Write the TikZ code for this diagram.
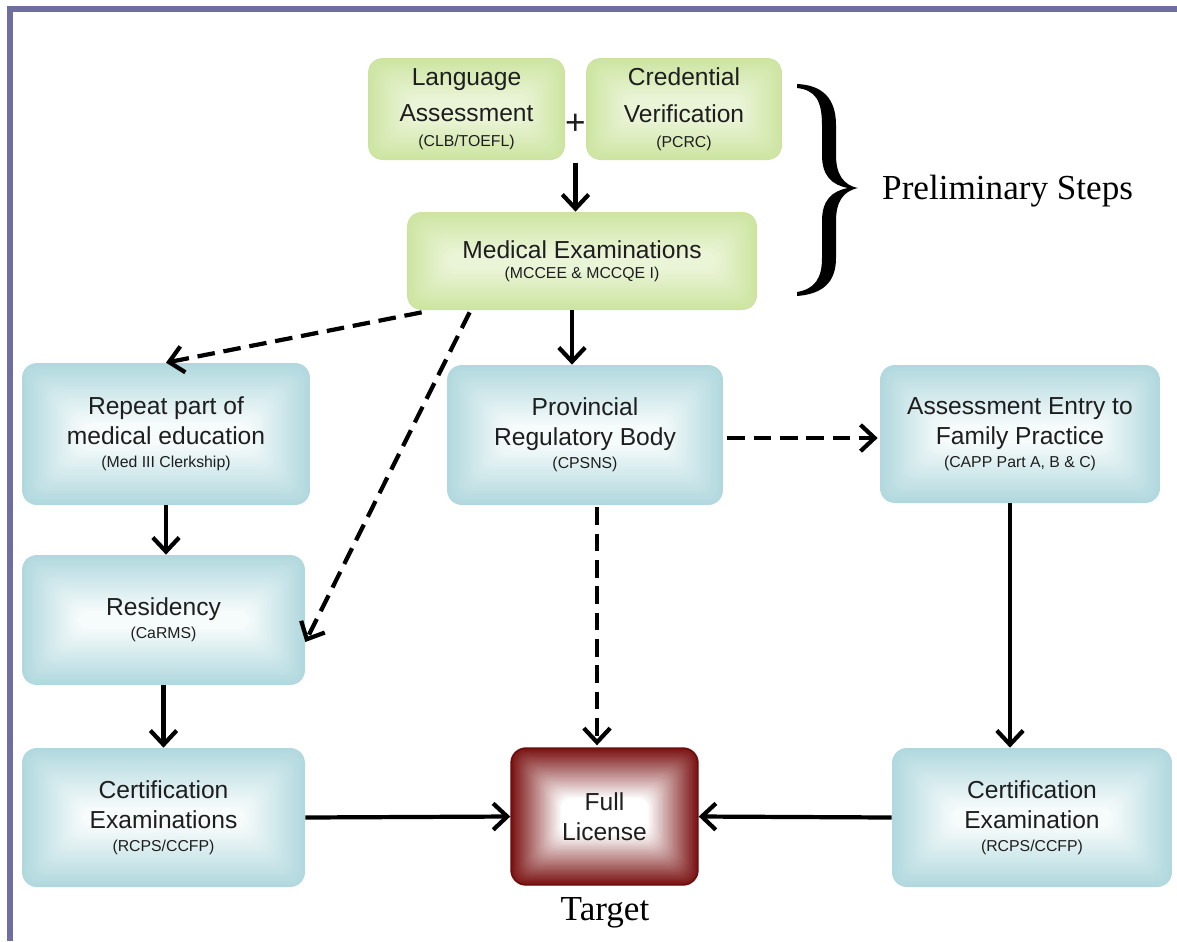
\documentclass[tikz,border=0pt]{standalone}
\usepackage{fontspec}
\setmainfont{Liberation Sans}
\newfontfamily\serifp{Liberation Serif}
\usetikzlibrary{arrows.meta,calc}
\definecolor{frameC}{RGB}{110,110,160}
\definecolor{blueE}{RGB}{176,216,222}
\definecolor{blueC}{RGB}{246,251,251}
\definecolor{greenE}{RGB}{204,228,160}
\definecolor{greenC}{RGB}{234,244,214}
\definecolor{redE}{RGB}{122,18,18}
\definecolor{redC}{RGB}{255,255,255}
\definecolor{txt}{RGB}{30,30,30}
\newcommand\sm[1]{{\fontsize{9}{11}\selectfont #1}}
\begin{document}
\begin{tikzpicture}[x=0.02cm,y=-0.02cm,
  box/.style={rounded corners=0.3cm, align=center, inner sep=2pt,
    font=\fontsize{14}{17}\selectfont, text=txt},
  sz/.style 2 args={minimum width=#1*0.02cm, minimum height=#2*0.02cm},
  glow/.style n args={3}{path picture={
    \foreach \i in {0,...,40}{
      \pgfmathsetmacro\pc{2.5*\i}
      \pgfmathsetmacro\ins{#3*\i/40}
      \fill[#2!\pc!#1, rounded corners=6pt]
        ($(path picture bounding box.south west)+(\ins,-\ins)$) rectangle
        ($(path picture bounding box.north east)+(-\ins,\ins)$);
    }}},
  arr/.style={line width=2.4pt, -{Straight Barb[length=8pt,width=15pt,line width=2.4pt]}},
  dsh/.style={arr, dash pattern=on 10pt off 5pt},
  lbl/.style={font=\serifp\fontsize{20}{23}\selectfont, text=black}
]
\useasboundingbox (0,0) rectangle (1177,941);
\fill[white] (0,0) rectangle (1177,941);
% frame
\draw[frameC, line width=0.12cm] (10,941) -- (10,9) -- (1177,9);

% preliminary boxes
\node[box,sz={197}{102},glow={greenE}{greenC}{40}] (lang) at (466.5,109)
  {Language\\[4pt]Assessment\\[-3pt]\sm{(CLB/TOEFL)}};
\node[box,sz={196}{102},glow={greenE}{greenC}{40}] (cred) at (684,109)
  {Credential\\[4pt]Verification\\[-3pt]\sm{(PCRC)}};
\node[font=\fontsize{20}{22}\selectfont, text=txt, inner sep=0pt] (plus) at (575.5,124) {+};
\node[box,sz={350}{98},glow={greenE}{greenC}{40}] (med) at (582,261)
  {Medical Examinations\\[-5.5pt]\sm{(MCCEE \& MCCQE I)}};

% middle row
\node[box,sz={288}{142},glow={blueE}{blueC}{60}] (rep) at (166,434)
  {Repeat part of\\medical education\\[-4pt]\sm{(Med III Clerkship)}};
\node[box,sz={276}{140},glow={blueE}{blueC}{60}] (prov) at (585,435)
  {Provincial\\Regulatory Body\\[-4pt]\sm{(CPSNS)}};
\node[box,sz={280}{138},glow={blueE}{blueC}{60}] (assess) at (1020,434)
  {Assessment Entry to\\Family Practice\\[-4pt]\sm{(CAPP Part A, B \& C)}};
\node[box,sz={283}{130},glow={blueE}{blueC}{56}] (res) at (163.5,620)
  {Residency\\[-4pt]\sm{(CaRMS)}};

% bottom row
\node[box,sz={283}{139},glow={blueE}{blueC}{60}] (certL) at (163.5,817.5)
  {Certification\\Examinations\\[-4pt]\sm{(RCPS/CCFP)}};
\node[box,sz={187}{137},glow={redE}{redC}{50},draw={rgb,255:red,105;green,12;blue,12},line width=0.8pt] (full) at (604.5,816.5)
  {Full\\License};
\node[box,sz={280}{139},glow={blueE}{blueC}{60}] (certR) at (1032,817.5)
  {Certification\\Examination\\[-4pt]\sm{(RCPS/CCFP)}};

\node[lbl] (target) at (605,913) {Target};

% brace and label
\fill[black] (797,84) .. controls (822,85) and (836,98) .. (836,125)
  -- (836,155) .. controls (836,174) and (843,185) .. (858,188)
  .. controls (843,191) and (836,202) .. (836,221)
  -- (836,258) .. controls (836,283) and (822,294) .. (797,296)
  -- (797,292) .. controls (815,289) and (822,278) .. (822,258)
  -- (822,221) .. controls (822,200) and (832,191) .. (848,188)
  .. controls (832,185) and (822,176) .. (822,155)
  -- (822,125) .. controls (822,100) and (815,90) .. (797,88) -- cycle;
\node[lbl, anchor=west] (prelim) at (876,191) {Preliminary Steps};

% connectors
\coordinate (tp) at ($(lang.south east)!0.5!(cred.south west)$);
\draw[arr] ($(tp)+(0,3)$) -- (tp |- med.north);
\coordinate (ax) at (572,0);
\draw[arr] (med.south -| ax) -- (prov.north -| ax);
\draw[dsh] ($(med.south west)+(15,2)$) -- (rep.north);
\draw[dsh] ($(med.south west)+(63,2)$) -- ($(res.east)+(0,22)$);
\draw[dsh] ($(prov.east)+(4,3)$) -- ($(assess.west)+(-2,4)$);
\draw[dsh] ($(prov.south)+(12,2)$) -- ($(full.north)+(-7.5,-2)$);
\draw[arr] (rep.south) -- (rep.south |- res.north);
\draw[arr] (res.south) -- (certL.north);
\draw[arr] (certL.east) -- (full.west);
\coordinate (bx) at (1010,0);
\draw[arr] (assess.south -| bx) -- (certR.north -| bx);
\draw[arr] (certR.west) -- (full.east);
\end{tikzpicture}
\end{document}
